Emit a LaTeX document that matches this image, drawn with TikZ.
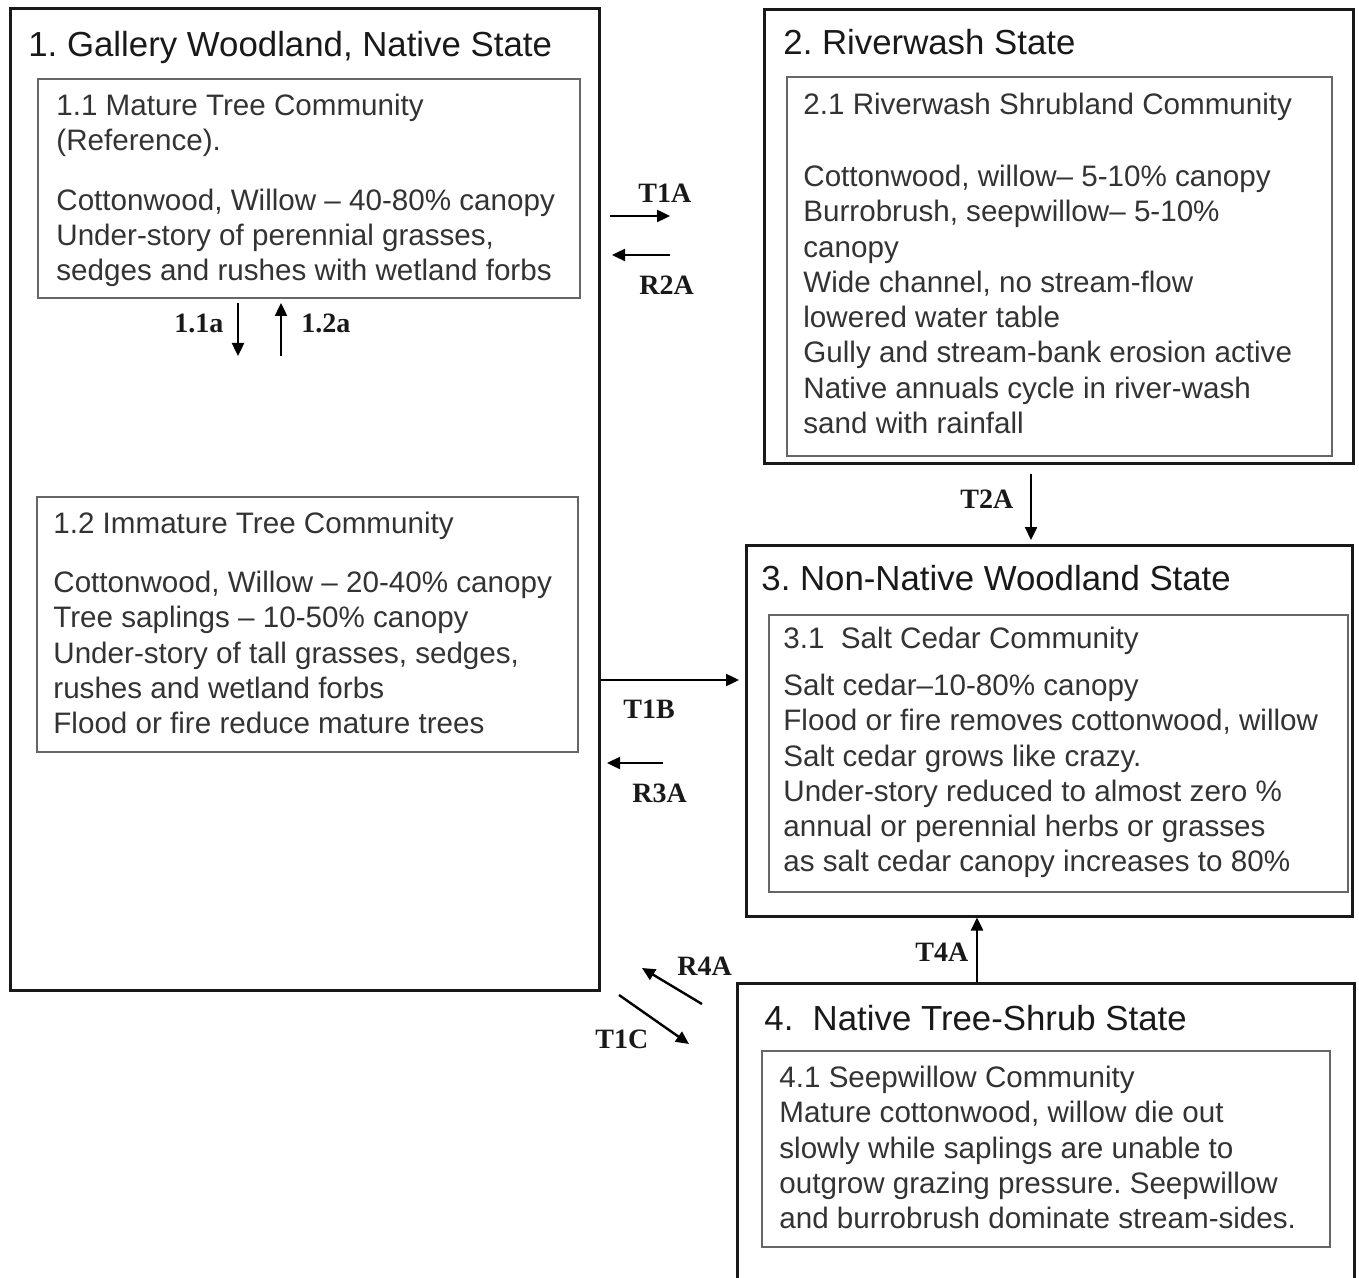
\documentclass[tikz,border=0pt]{standalone}
\usepackage{fontspec}
\setmainfont{Liberation Sans}
\newfontfamily\lblfont{Liberation Serif}
\usetikzlibrary{fit,arrows.meta}
\frenchspacing
\begin{document}
\begin{tikzpicture}[x=0.5pt,y=-0.5pt,
  outer/.style={draw=black!90, line width=1.5pt, inner sep=0pt},
  innerbox/.style={draw=black!60, line width=1pt, inner sep=0pt},
  ttl/.style={anchor=base west, inner sep=0pt, font=\fontsize{17.4}{20}\selectfont, text=black!90},
  body/.style={anchor=north west, inner sep=0pt, yshift=12.355pt, align=left,
               font=\fontsize{14.8}{17.65}\selectfont, text=black!80},
  lbl/.style={anchor=base west, inner sep=0pt, font=\lblfont\bfseries\fontsize{14}{16}\selectfont, text=black!90},
  arr/.style={line width=1.2pt, -{Triangle[length=6.5pt,width=6pt]}}
]
\useasboundingbox (0,0) rectangle (1359,1278);
\clip (0,0) rectangle (1359,1278);

% ---- boxes
\node[outer, fit={(10,9) (599,990)}] (s1) {};
\node[innerbox, fit={(38,79) (580,298)}] (c11) {};
\node[innerbox, fit={(37,497) (578,752)}] (c12) {};

\node[outer, fit={(764,10) (1353,463)}] (s2) {};
\node[innerbox, fit={(787,77) (1332,456)}] (c21) {};

\node[outer, fit={(746,545) (1352,916)}] (s3) {};
\node[innerbox, fit={(769,615) (1348,892)}] (c31) {};

\node[outer, fit={(737,983) (1354,1300)}] (s4) {};
\node[innerbox, fit={(762,1051) (1330,1247)}] (c41) {};

% ---- texts
\node[ttl] (t1) at (28,57) {1. Gallery Woodland, Native State};
\node[body] (b11h) at (56,115) {\strut 1.1 Mature Tree Community\\(Reference).};
\node[body] (b11b) at (56,210) {\strut Cottonwood, Willow -- 40-80\% canopy\\Under-story of perennial grasses,\\sedges and rushes with wetland forbs};
\node[body] (b12h) at (53,533) {\strut 1.2 Immature Tree Community};
\node[body] (b12b) at (53,592) {\strut Cottonwood, Willow -- 20-40\% canopy\\Tree saplings -- 10-50\% canopy\\Under-story of tall grasses, sedges,\\rushes and wetland forbs\\Flood or fire reduce mature trees};

\node[ttl] (t2) at (783,55) {2. Riverwash State};
\node[body] (b21h) at (803,114) {\strut 2.1 Riverwash Shrubland Community};
\node[body] (b21b) at (803,186) {\strut Cottonwood, willow-- 5-10\% canopy\\Burrobrush, seepwillow-- 5-10\%\\canopy\\Wide channel, no stream-flow\\lowered water table\\Gully and stream-bank erosion active\\Native annuals cycle in river-wash\\sand with rainfall};

\node[ttl] (t3) at (761,590) {3. Non-Native Woodland State};
\node[body] (b31h) at (783,648) {\strut 3.1\ \ Salt Cedar Community};
\node[body] (b31b) at (783,695) {\strut Salt cedar--10-80\% canopy\\Flood or fire removes cottonwood, willow\\Salt cedar grows like crazy.\\Under-story reduced to almost zero \%\\annual or perennial herbs or grasses\\as salt cedar canopy increases to 80\%};

\node[ttl] (t4) at (764,1030) {4.\ \ Native Tree-Shrub State};
\node[body] (b41) at (779,1087) {\strut 4.1 Seepwillow Community\\Mature cottonwood, willow die out\\slowly while saplings are unable to\\outgrow grazing pressure. Seepwillow\\and burrobrush dominate stream-sides.};

% ---- labels
\node[lbl] (l11a) at (174,333) {1.1a};
\node[lbl] (l12a) at (301,333) {1.2a};
\node[lbl] (lT1A) at (638,203) {T1A};
\node[lbl] (lR2A) at (639,295) {R2A};
\node[lbl] (lT1B) at (623,718) {T1B};
\node[lbl] (lR3A) at (632,802) {R3A};
\node[lbl] (lT2A) at (960,508) {T2A};
\node[lbl] (lT4A) at (915,961) {T4A};
\node[lbl] (lR4A) at (677,975) {R4A};
\node[lbl] (lT1C) at (595,1048) {T1C};

% ---- arrow end points
\coordinate (p11a) at (238,303); \coordinate (q11a) at (238,356);
\coordinate (p12a) at (281,356); \coordinate (q12a) at (281,303);
\coordinate (pT1A) at (610,216); \coordinate (qT1A) at (670,216);
\coordinate (pR2A) at (670,255); \coordinate (qR2A) at (612,255);
\coordinate (yT1B) at (0,680);   \coordinate (qT1B) at (739,680);
\coordinate (pR3A) at (663,763); \coordinate (qR3A) at (607,763);
\coordinate (xT2A) at (1031,0);  \coordinate (pT2A) at (1031,474); \coordinate (qT2A) at (1031,540);
\coordinate (xT4A) at (977,0);
\coordinate (pR4A) at (702,1004); \coordinate (qR4A) at (642,968);
\coordinate (pT1C) at (619,995);  \coordinate (qT1C) at (689,1044);

% ---- connectors
\draw[arr] (p11a) -- (q11a);
\draw[arr] (p12a) -- (q12a);
\draw[arr] (pT1A) -- (qT1A);
\draw[arr] (pR2A) -- (qR2A);
\draw[arr] (s1.east |- yT1B) -- (qT1B);
\draw[arr] (pR3A) -- (qR3A);
\draw[arr] (pT2A) -- (qT2A);
\draw[arr] (s4.north -| xT4A) -- (s3.south -| xT4A);
\draw[arr] (pR4A) -- (qR4A);
\draw[arr] (pT1C) -- (qT1C);
\end{tikzpicture}
\end{document}
